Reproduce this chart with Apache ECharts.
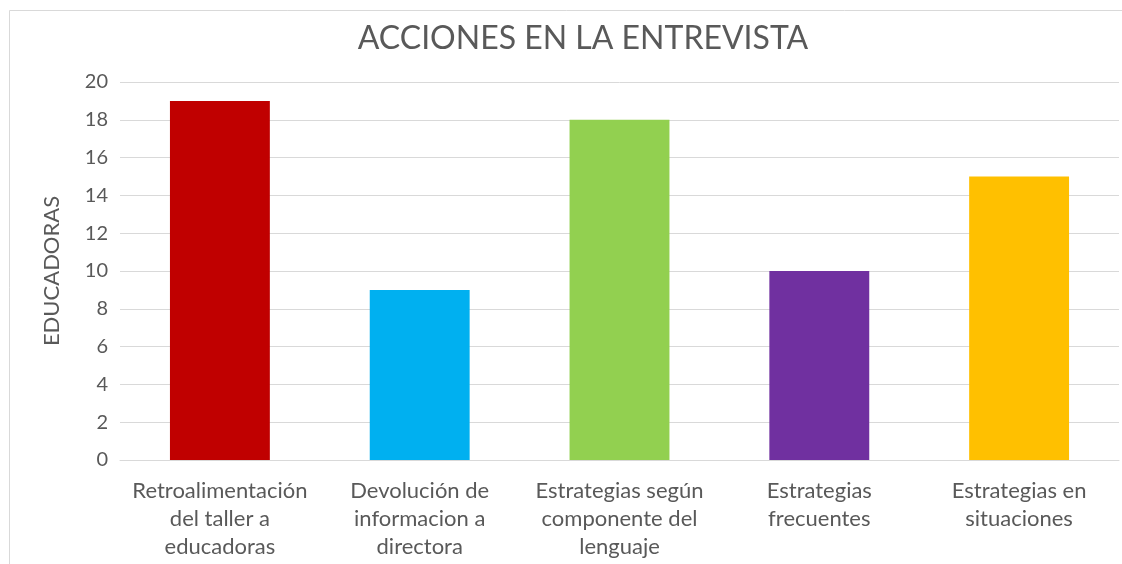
<!DOCTYPE html>
<html>
<head>
<meta charset="utf-8">
<script src="https://cdn.jsdelivr.net/npm/echarts@6/dist/echarts.min.js"></script>
<style>
html,body{margin:0;padding:0;background:#fff;}
#chart{width:1122px;height:564px;}
</style>
</head>
<body>
<div id="chart"></div>
<script>
const title = 'ACCIONES EN LA ENTREVISTA';
const yAxisName = 'EDUCADORAS';
const categories = [
  'Retroalimentación\ndel taller a\neducadoras',
  'Devolución de\ninformacion a\ndirectora',
  'Estrategias según\ncomponente del\nlenguaje',
  'Estrategias\nfrecuentes',
  'Estrategias en\nsituaciones'
];
const values = [19, 9, 18, 10, 15];
const colors = ['#C00000', '#00B0F0', '#92D050', '#7030A0', '#FFC000'];
const yTicks = [0, 2, 4, 6, 8, 10, 12, 14, 16, 18, 20];

const FONT = 'Lato, "Open Sans", sans-serif';
const chart = echarts.init(document.getElementById('chart'), null, {renderer: 'canvas'});
chart.setOption({
  animation: false,
  backgroundColor: '#fff',
  graphic: [{
    type: 'rect', silent: true, z: -1,
    shape: {x: 9.5, y: 10.5, width: 1200, height: 600},
    style: {fill: 'none', stroke: '#D9D9D9', lineWidth: 1}
  }],
  title: {
    text: title, left: 578, top: 18, textAlign: 'center',
    textStyle: {fontFamily: FONT, fontSize: 32, fontWeight: 'normal', color: '#595959'}
  },
  grid: {left: 120, right: 3, top: 82, bottom: 104, containLabel: false},
  xAxis: {
    type: 'category', data: categories,
    axisLine: {lineStyle: {color: '#D9D9D9', width: 1}},
    axisTick: {show: false},
    axisLabel: {
      interval: 0, margin: 17, lineHeight: 28,
      fontFamily: FONT, fontSize: 22, color: '#595959'
    }
  },
  yAxis: {
    type: 'value', min: yTicks[0], max: yTicks[yTicks.length - 1], interval: 2,
    name: yAxisName, nameLocation: 'middle', nameGap: 57, nameRotate: 90,
    nameTextStyle: {fontFamily: FONT, fontSize: 22, color: '#595959'},
    axisLine: {show: false}, axisTick: {show: false},
    axisLabel: {margin: 12, fontFamily: FONT, fontSize: 20, color: '#595959'},
    splitLine: {lineStyle: {color: '#D9D9D9', width: 1}}
  },
  series: [{
    type: 'bar', barWidth: '50%',
    data: values.map((v, i) => ({value: v, itemStyle: {color: colors[i]}}))
  }]
});
</script>
</body>
</html>
